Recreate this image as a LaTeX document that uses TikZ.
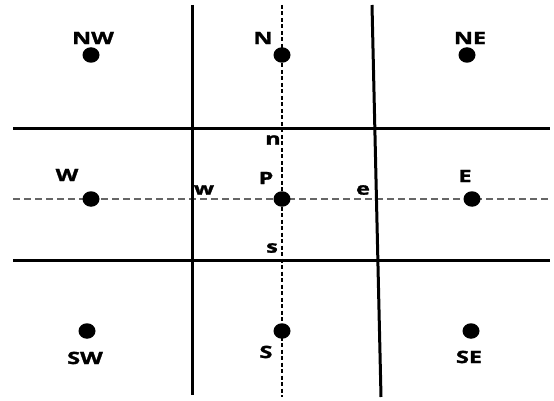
\documentclass[tikz,border=0pt]{standalone}
\usepackage{fontspec}
\setmainfont{Open Sans}
\newfontfamily\lblfont{Open Sans}[BoldFeatures={FakeBold=1.3}]
\usetikzlibrary{shapes.geometric}
\newcommand{\widelabel}[1]{\scalebox{1.38}[1]{#1}}
\begin{document}
\begin{tikzpicture}[x=1pt,y=-1pt,
  gridline/.style={line width=3pt,black},
  axisdash/.style={line width=1.1pt,dash pattern=on 7pt off 4pt,black!60},
  vdash/.style={line width=1.1pt,dash pattern=on 4pt off 2.5pt,black},
  pt/.style={ellipse,fill=black,inner sep=0pt,minimum width=17pt,minimum height=15.5pt},
  lbl/.style={font=\fontsize{17}{17}\lblfont\bfseries,inner sep=0pt}]
\useasboundingbox[fill=white] (0,0) rectangle (554,401);
% end points of the grid lines
\coordinate (hL) at (13,199);  \coordinate (hR) at (550,199);
\coordinate (vT) at (282,5);   \coordinate (vB) at (282,397);
\coordinate (t1L) at (13,129); \coordinate (t1R) at (550,129);
\coordinate (t2L) at (13,260); \coordinate (t2R) at (550,260);
\coordinate (lT) at (192,5);   \coordinate (lB) at (192,395);
\coordinate (rT) at (372,5);   \coordinate (rB) at (381,397);
% dashed axes through P
\draw[axisdash] (hL) -- (hR);
\draw[vdash] (vT) -- (vB);
% control-volume faces
\draw[gridline] (t1L) -- (t1R);
\draw[gridline] (t2L) -- (t2R);
\draw[gridline] (lT) -- (lB);
\draw[gridline] (rT) -- (rB);
% grid points
\node[pt] (NWp) at (91,55) {};
\node[pt] (Np)  at (282,55) {};
\node[pt] (NEp) at (467,55) {};
\node[pt] (Wp)  at (91,199) {};
\node[pt] (Pp)  at (282,199) {};
\node[pt] (Ep)  at (472,199) {};
\node[pt] (SWp) at (87,331) {};
\node[pt] (Sp)  at (282,331) {};
\node[pt] (SEp) at (471,331) {};
% labels
\node[lbl] (NWl) at (93,38) {\widelabel{NW}};
\node[lbl] (Nl)  at (263,38) {\widelabel{N}};
\node[lbl] (NEl) at (470,38) {\widelabel{NE}};
\node[lbl] (Wl)  at (67,175) {\widelabel{W}};
\node[lbl] (Pl)  at (266,178) {\widelabel{P}};
\node[lbl] (El)  at (465,176) {\widelabel{E}};
\node[lbl] (SWl) at (85,358) {\widelabel{SW}};
\node[lbl] (Sl)  at (266,352) {\widelabel{S}};
\node[lbl] (SEl) at (469,357) {\widelabel{SE}};
\node[lbl] (wl) at (204,190) {\widelabel{w}};
\node[lbl] (el) at (363,190) {\widelabel{e}};
\node[lbl] (nl) at (273,140) {\widelabel{n}};
\node[lbl] (sl) at (272,248) {\widelabel{s}};
\end{tikzpicture}
\end{document}
